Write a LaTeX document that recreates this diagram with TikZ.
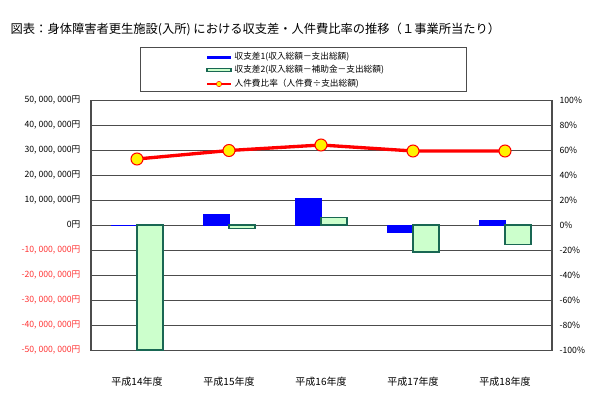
\documentclass[tikz,border=0pt]{standalone}
\usepackage{fontspec}
\setmainfont{Noto Sans CJK JP}
\begin{document}
\begin{tikzpicture}[x=0.75pt,y=-0.75pt,font=\fontsize{6.5}{7}\selectfont,
  lab/.style={anchor=east,inner sep=1pt},
  rlab/.style={anchor=west,inner sep=1pt},
  bluebar/.style={fill=blue,draw=blue},
  greenbar/.style={fill=green!20,draw=green!45!black!75!blue!90,line width=0.9pt},
  grid/.style={draw=black!70,line width=0.5pt},
  dot/.style={circle,fill=yellow,draw=red,line width=0.8pt,minimum size=9pt,inner sep=0pt}]
\useasboundingbox (0,0) rectangle (603,418);
\node[anchor=west,font=\fontsize{9.2}{10}\selectfont] (title) at (6,29) {図表：身体障害者更生施設(入所) における収支差・人件費比率の推移（１事業所当たり）};
% legend
\draw[black!70,line width=0.6pt] (140,47) rectangle (466,91);
\fill[blue] (207,55.5) rectangle (231,58.5);
\node[rlab] (l1) at (233,57) {収支差1(収入総額－支出総額)};
\draw[greenbar,line width=0.8pt] (207,68.5) rectangle (231,71.5);
\node[rlab] (l2) at (233,70) {収支差2(収入総額－補助金－支出総額)};
\draw[red,line width=1.2pt] (207,84) -- (231,84);
\node[circle,fill=yellow,draw=red,minimum size=4pt,inner sep=0pt] (ld) at (219,84) {};
\node[rlab] (l3) at (233,84) {人件費比率（人件費÷支出総額)};
% grid
\foreach \i in {0,...,10} {
  \pgfmathsetmacro\yy{100+25*\i}
  \draw[grid] (91,\yy) -- (552,\yy);
}
\draw[black!70,line width=0.8pt] (91,100) -- (91,351);
\draw[black!70,line width=0.8pt] (552,100) -- (552,351);
% left labels
\foreach \v/\i in {50/0,40/1,30/2,20/3,10/4} {
  \node[lab] at (82,{100+25*\i}) {\v, 000, 000円};
}
\node[lab] at (82,225) {0円};
\foreach \v/\i in {10/6,20/7,30/8,40/9,50/10} {
  \node[lab,text=red!80] at (82,{100+25*\i}) {-\v, 000, 000円};
}
% right labels
\foreach \v/\i in {100/0,80/1,60/2,40/3,20/4,0/5} {
  \node[rlab] at (558,{100+25*\i}) {\v\%};
}
\foreach \v/\i in {20/6,40/7,60/8,80/9,100/10} {
  \node[rlab] at (558,{100+25*\i}) {-\v\%};
}
% bars
\foreach \c/\b/\g in {137/-0.15/-50,229/4.2/-1.5,321/10.5/3,413/-3/-10.8,505/2/-7.8} {
  \draw[bluebar] ({\c-26},225) rectangle (\c,{225-2.5*\b});
  \draw[greenbar] (\c,225) rectangle ({\c+26},{225-2.5*\g});
}
% line
\coordinate (p1) at (137,159);
\coordinate (p2) at (229,150.5);
\coordinate (p3) at (321,145);
\coordinate (p4) at (413,151);
\coordinate (p5) at (505,151);
\draw[red,line width=2.5pt] (p1) -- (p2) -- (p3) -- (p4) -- (p5);
\foreach \p in {p1,p2,p3,p4,p5} \node[dot] at (\p) {};
% categories
\foreach \c/\t in {137/14,229/15,321/16,413/17,505/18} {
  \node[font=\fontsize{7.5}{8}\selectfont] at (\c,382) {平成\t 年度};
}
\end{tikzpicture}
\end{document}
